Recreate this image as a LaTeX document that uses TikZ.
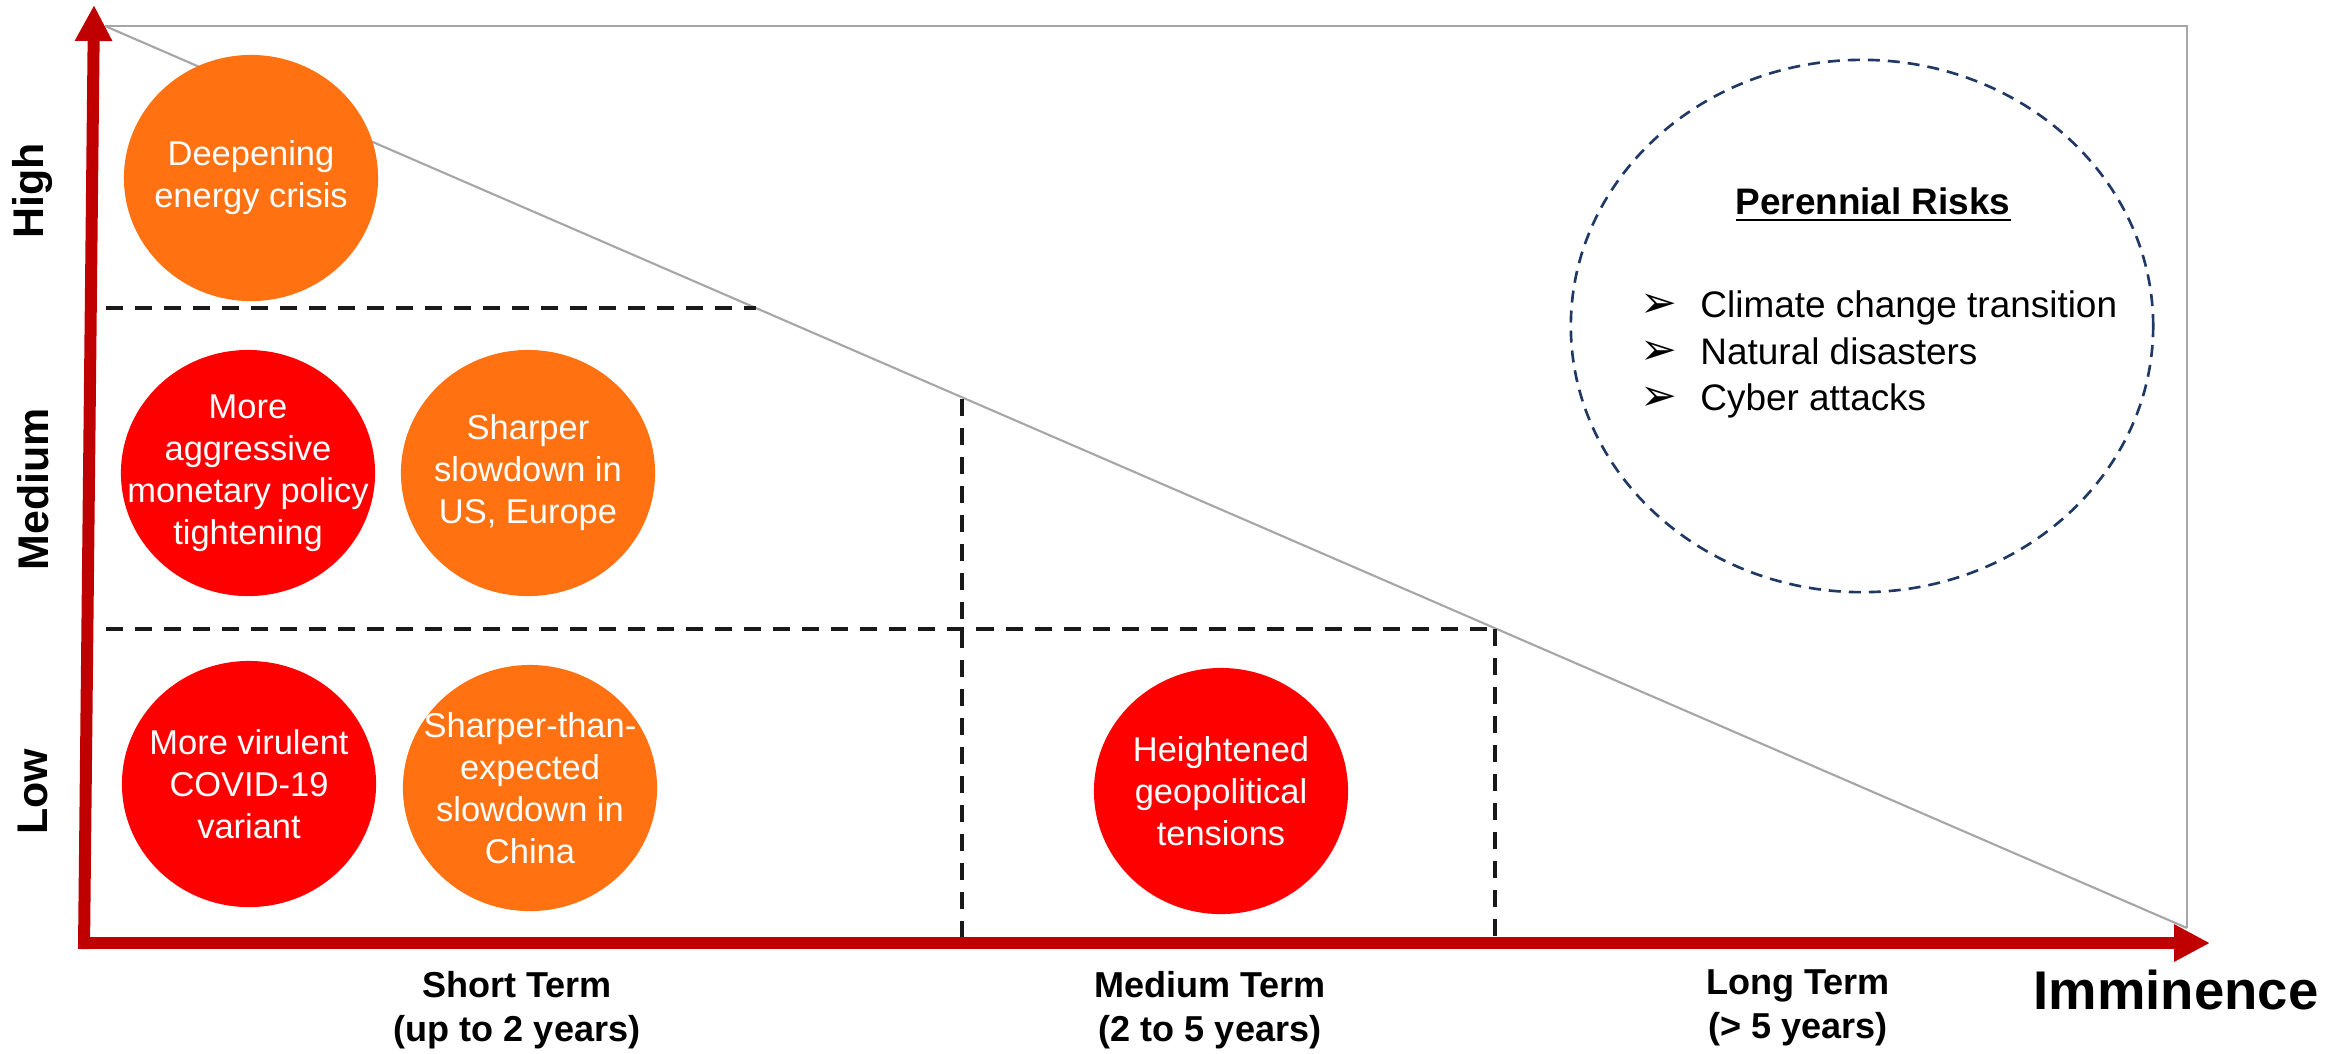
\documentclass[tikz,border=0pt]{standalone}
\usepackage{fontspec}
\setmainfont{Liberation Sans}
\newfontfamily\bulletfont{DejaVu Sans}
\usetikzlibrary{arrows.meta,shapes.geometric}

\definecolor{axisred}{HTML}{C00000}
\definecolor{riskred}{HTML}{FF0000}
\definecolor{riskorange}{HTML}{FF7111}
\definecolor{linegray}{HTML}{A6A6A6}
\definecolor{ringnavy}{HTML}{1F3864}

\tikzset{
  axisarrow/.style={axisred, line width=0.12cm, -{Triangle[length=0.36cm,width=0.35cm]}},
  boxline/.style={linegray, line width=0.6pt},
  divider/.style={black!90, line width=1.3pt, dash pattern=on 0.17cm off 0.12cm},
  ring/.style={ringnavy, line width=0.75pt, dash pattern=on 0.12cm off 0.08cm},
  riskdot/.style={ellipse, minimum width=2.54cm, minimum height=2.46cm, inner sep=0pt},
  risktext/.style={text=white, align=center, font=\fontsize{9.8}{11.95}\selectfont},
  termlabel/.style={align=center, font=\bfseries\fontsize{10.25}{12.5}\selectfont},
  levellabel/.style={rotate=90, font=\bfseries\fontsize{12.2}{14}\selectfont},
  perennial/.style={anchor=base west, font=\fontsize{10.5}{13.1}\selectfont},
}
\newcommand{\riskbullet}{\makebox[0.6cm][l]{\bulletfont\fontsize{12.5}{13}\selectfont ➢}}

\begin{document}
\begin{tikzpicture}[x=0.01cm, y=-0.01cm]
\useasboundingbox (0,0) rectangle (2349,1053);

% frame and diagonal
\coordinate (tl) at (105,26);
\coordinate (tr) at (2187,26);
\coordinate (br) at (2187,928);
\draw[boxline] (tl) -- (tr) -- (br);
\draw[boxline] (tl) -- (br);

% grid
\draw[divider] (106,308) -- (756,308);
\draw[divider] (106,629) -- (1496,629);
\draw[divider] (962,399) -- (962,943);
\draw[divider] (1495,629) -- (1495,943);

% axes
\coordinate (origin) at (84,949);
\coordinate (xstart) at (78,943);
\coordinate (ytip) at (94,5);
\coordinate (xtip) at (2210,943);
\draw[axisarrow] (xstart) -- (xtip);
\draw[axisarrow] (origin) -- (ytip);

% risks
\node[riskdot, fill=riskorange] (energy) at (251,178) {};
\node[risktext] (energy-t) at (energy) {Deepening\\energy crisis};

\node[riskdot, fill=riskred] (monetary) at (248,473) {};
\node[risktext] (monetary-t) at (monetary) {More\\aggressive\\monetary policy\\tightening};

\node[riskdot, fill=riskorange] (useu) at (528,473) {};
\node[risktext] (useu-t) at (useu) {Sharper\\slowdown in\\US, Europe};

\node[riskdot, fill=riskred] (covid) at (249,784) {};
\node[risktext] (covid-t) at (covid) {More virulent\\COVID-19\\variant};

\node[riskdot, fill=riskorange] (china) at (530,788) {};
\node[risktext] (china-t) at (china) {Sharper-than-\\expected\\slowdown in\\China};

\node[riskdot, fill=riskred] (geo) at (1221,791) {};
\node[risktext] (geo-t) at (geo) {Heightened\\geopolitical\\tensions};

% perennial risks
\draw[ring] (1862,326) ellipse [x radius=2.91cm, y radius=2.66cm];
\node[font=\bfseries\fontsize{10.5}{13}\selectfont] (ptitle) at (1873,205) {\underline{Perennial Risks}};
\node[perennial] (p1) at (1628,317) {\riskbullet Climate change transition};
\node[perennial] (p2) at (1628,364) {\riskbullet Natural disasters};
\node[perennial] (p3) at (1628,410) {\riskbullet Cyber attacks};

% labels
\node[levellabel] (high) at (33,191) {High};
\node[levellabel] (medium) at (33,489) {Medium};
\node[levellabel] (low) at (33,792) {Low};

\node[termlabel] (short) at (517,1010) {Short Term\\(up to 2 years)};
\node[termlabel] (mid) at (1210,1010) {Medium Term\\(2 to 5 years)};
\node[termlabel] (long) at (1798,1008) {Long Term\\(> 5 years)};
\node[font=\bfseries\fontsize{15.5}{18}\selectfont] (imminence) at (2176,990) {Imminence};
\end{tikzpicture}
\end{document}
